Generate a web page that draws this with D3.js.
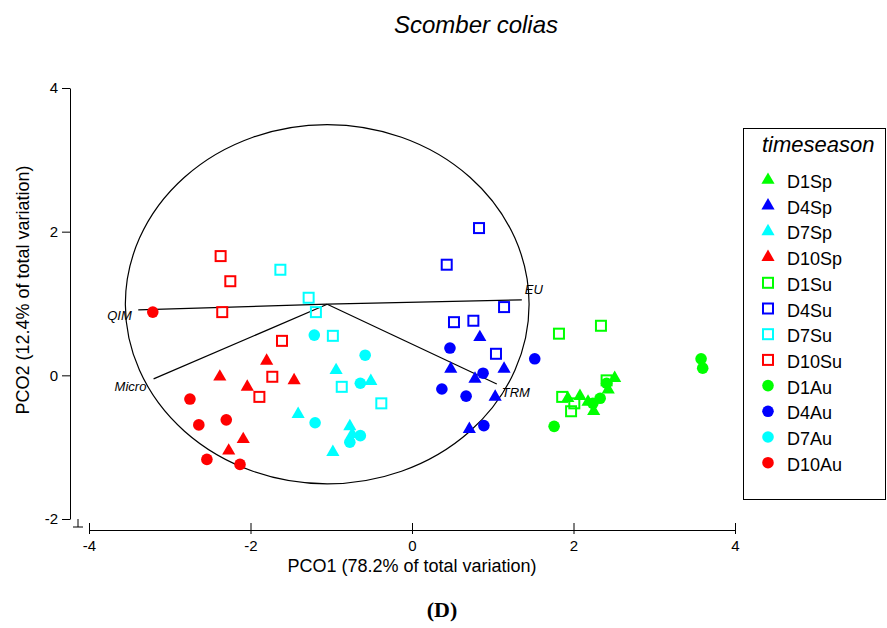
<!DOCTYPE html>
<html>
<head>
<meta charset="utf-8">
<script src="https://cdn.jsdelivr.net/npm/d3@7"></script>
<style>
  body { margin: 0; background: #fff; }
  text { font-family: "Liberation Sans", Arial, sans-serif; }
</style>
</head>
<body>
<div id="chart"></div>
<script>
// groups, in legend order
const groups = ['D1Sp', 'D4Sp', 'D7Sp', 'D10Sp', 'D1Su', 'D4Su', 'D7Su', 'D10Su', 'D1Au', 'D4Au', 'D7Au', 'D10Au'];
const groupColors = ['#00ff00', '#0000ff', '#00ffff', '#ff0000', '#00ff00', '#0000ff', '#00ffff', '#ff0000', '#00ff00', '#0000ff', '#00ffff', '#ff0000'];
const groupShapes = ['tri', 'tri', 'tri', 'tri', 'sq', 'sq', 'sq', 'sq', 'dot', 'dot', 'dot', 'dot'];

// PCO scores [PCO1, PCO2]
const D1Sp = [[1.93, -0.32], [2.08, -0.29], [2.25, -0.50], [2.43, -0.20], [2.51, -0.04], [2.18, -0.37]];
const D4Sp = [[0.84, 0.53], [0.48, 0.09], [1.14, 0.09], [0.78, -0.05], [1.03, -0.30], [0.71, -0.75]];
const D7Sp = [[-0.94, 0.07], [-0.51, -0.08], [-1.41, -0.54], [-0.77, -0.71], [-0.74, -0.82], [-0.98, -1.07]];
const D10Sp = [[-2.38, -0.02], [-1.80, 0.20], [-2.04, -0.16], [-1.46, -0.07], [-2.09, -0.89], [-2.27, -1.05]];
const D1Su = [[1.82, 0.58], [2.34, 0.69], [2.41, -0.07], [1.86, -0.30], [2.01, -0.39], [1.97, -0.50]];
const D4Su = [[0.83, 2.05], [0.43, 1.54], [1.14, 0.95], [0.52, 0.74], [0.76, 0.76], [1.04, 0.30]];
const D7Su = [[-1.63, 1.47], [-1.28, 1.08], [-1.19, 0.88], [-0.98, 0.55], [-0.87, -0.16], [-0.38, -0.39]];
const D10Su = [[-2.37, 1.66], [-2.25, 1.31], [-2.35, 0.88], [-1.61, 0.48], [-1.73, -0.02], [-1.89, -0.30]];
const D1Au = [[1.76, -0.71], [2.24, -0.39], [2.33, -0.32], [2.41, -0.11], [3.58, 0.23], [3.60, 0.10]];
const D4Au = [[0.47, 0.38], [1.52, 0.23], [0.88, 0.03], [0.37, -0.19], [0.67, -0.29], [0.89, -0.70]];
const D7Au = [[-1.21, 0.56], [-0.58, 0.28], [-0.64, -0.11], [-1.20, -0.66], [-0.64, -0.84], [-0.77, -0.93]];
const D10Au = [[-3.21, 0.88], [-2.75, -0.33], [-2.64, -0.69], [-2.30, -0.62], [-2.54, -1.17], [-2.13, -1.24]];
const scores = [D1Sp, D4Sp, D7Sp, D10Sp, D1Su, D4Su, D7Su, D10Su, D1Au, D4Au, D7Au, D10Au];

// vector overlay
const vecOrigin = [-1.05, 0.99];
const circleRadius = 2.5;
const vecNames = ['QIM', 'EU', 'Micro', 'TRM'];
const vecEnds = [[-3.39, 0.91], [1.36, 1.05], [-3.20, -0.05], [1.05, -0.12]];

const xTicks = [-4, -2, 0, 2, 4];
const yTicks = [-2, 0, 2, 4];

const width = 887, height = 628;

const svg = d3.select('#chart')
    .append('svg')
    .attr('width', width)
    .attr('height', height);

const x = d3.scaleLinear().domain([-4, 4]).range([89, 735]);
const y = d3.scaleLinear().domain([-2, 4]).range([519, 88]);

// title
svg.append('text')
    .attr('x', 476).attr('y', 33)
    .attr('text-anchor', 'middle')
    .style('font-size', '24px')
    .style('font-style', 'italic')
    .text('Scomber colias');

// axes
svg.append('g')
    .attr('transform', 'translate(0,530)')
    .call(d3.axisBottom(x).tickValues(xTicks).tickSizeOuter(0).tickSizeInner(4).tickPadding(6).tickFormat(d => String(d)))
    .call(g => g.select('.domain').attr('stroke', '#000'))
    .call(g => g.selectAll('.tick line').attr('y1', -7).attr('y2', 4))
    .call(g => g.selectAll('.tick text').style('font-size', '15px').attr('fill', '#000'));

svg.append('g')
    .attr('transform', 'translate(70,0)')
    .call(d3.axisLeft(y).tickValues(yTicks).tickSizeOuter(0).tickSizeInner(8).tickPadding(4).tickFormat(d => String(d)))
    .call(g => g.selectAll('.tick text').style('font-size', '15px').attr('fill', '#000'));

// small corner mark
svg.append('path')
    .attr('d', 'M78,519V527M73,527H83')
    .attr('stroke', '#000')
    .attr('fill', 'none');

svg.append('text')
    .attr('x', 412).attr('y', 572)
    .attr('text-anchor', 'middle')
    .style('font-size', '18px')
    .text('PCO1 (78.2% of total variation)');

svg.append('text')
    .attr('transform', 'translate(29,290) rotate(-90)')
    .attr('text-anchor', 'middle')
    .style('font-size', '18px')
    .text('PCO2 (12.4% of total variation)');

svg.append('text')
    .attr('x', 442).attr('y', 617)
    .attr('text-anchor', 'middle')
    .style('font-family', '"Liberation Serif", "Times New Roman", serif')
    .style('font-weight', 'bold')
    .style('font-size', '22px')
    .text('(D)');

// correlation circle and vectors
svg.append('ellipse')
    .attr('cx', x(vecOrigin[0]))
    .attr('cy', y(vecOrigin[1]))
    .attr('rx', x(circleRadius) - x(0))
    .attr('ry', y(0) - y(circleRadius))
    .attr('fill', 'none')
    .attr('stroke', '#000')
    .attr('stroke-width', 1.2);

svg.selectAll('line.vec')
    .data(vecEnds)
    .enter()
    .append('line')
    .attr('class', 'vec')
    .attr('x1', x(vecOrigin[0]))
    .attr('y1', y(vecOrigin[1]))
    .attr('x2', d => x(d[0]))
    .attr('y2', d => y(d[1]))
    .attr('stroke', '#000')
    .attr('stroke-width', 1.2);

const vecLabelOffset = [[-31, 10], [3, -6], [-39, 12], [5, 13]];
svg.selectAll('text.vec')
    .data(vecNames)
    .enter()
    .append('text')
    .attr('x', (d, i) => x(vecEnds[i][0]) + vecLabelOffset[i][0])
    .attr('y', (d, i) => y(vecEnds[i][1]) + vecLabelOffset[i][1])
    .style('font-size', '13px')
    .style('font-style', 'italic')
    .text(d => d);

// symbols
function drawSymbol(sel, shape, color) {
    if (shape === 'tri') {
        sel.append('path')
            .attr('d', d3.symbol(d3.symbolTriangle, 75)())
            .attr('fill', color);
    } else if (shape === 'sq') {
        sel.append('rect')
            .attr('x', -5).attr('y', -5)
            .attr('width', 10).attr('height', 10)
            .attr('fill', 'none')
            .attr('stroke', color)
            .attr('stroke-width', 2);
    } else {
        sel.append('circle')
            .attr('r', 5.8)
            .attr('fill', color);
    }
}

// draw autumn first, then summer, then spring on top
const order = [8, 9, 10, 11, 4, 5, 6, 7, 0, 1, 2, 3];
order.forEach(gi => {
    scores[gi].forEach(p => {
        const g = svg.append('g')
            .attr('transform', `translate(${x(p[0])},${y(p[1])})`);
        drawSymbol(g, groupShapes[gi], groupColors[gi]);
    });
});

// legend
const legend = svg.append('g');
legend.append('rect')
    .attr('x', 743.5).attr('y', 128.5)
    .attr('width', 142).attr('height', 371)
    .attr('fill', 'none')
    .attr('stroke', '#000');

legend.append('text')
    .attr('x', 762).attr('y', 152)
    .style('font-size', '22px')
    .style('font-style', 'italic')
    .text('timeseason');

groups.forEach((name, i) => {
    const cy = 182 + i * 25.7;
    const g = legend.append('g').attr('transform', `translate(768,${cy - 2})`);
    drawSymbol(g, groupShapes[i], groupColors[i]);
    legend.append('text')
        .attr('x', 787).attr('y', cy + 6)
        .style('font-size', '18px')
        .text(name);
});
</script>
</body>
</html>
